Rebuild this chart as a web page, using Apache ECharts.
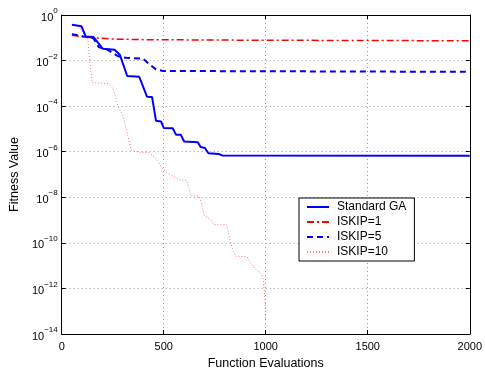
<!DOCTYPE html>
<html>
<head>
<meta charset="utf-8">
<script src="https://cdn.jsdelivr.net/npm/echarts@6/dist/echarts.min.js"></script>
<style>
  html, body { margin: 0; padding: 0; background: #fff; }
  #chart { width: 485px; height: 375px; }
</style>
</head>
<body>
<div id="chart"></div>
<script>
// Fitness value vs function evaluations, log y-axis.
const xTicks = [0, 500, 1000, 1500, 2000];
const seriesNames = ["Standard GA", "ISKIP=1", "ISKIP=5", "ISKIP=10"];

const gaEvals = [50, 97, 118, 156, 202, 259, 285, 321, 380, 418, 443, 462, 487, 500, 544, 560, 584, 600, 667, 681, 702, 719, 770, 787, 2000];
const gaFitness = [0.37, 0.32, 0.114, 0.107, 0.033, 0.030, 0.018, 2.1e-3, 1.95e-3, 2.6e-4, 2.5e-4, 2.3e-5, 2.1e-5, 1.1e-5, 1.07e-5, 5.6e-6, 5.5e-6, 2.8e-6, 2.6e-6, 1.6e-6, 1.45e-6, 8.5e-7, 7.9e-7, 6.9e-7, 6.7e-7];

const skip1Evals = [50, 100, 150, 250, 400, 700, 1000, 2000];
const skip1Fitness = [0.13, 0.11, 0.10, 0.088, 0.083, 0.08, 0.078, 0.074];

const skip5Evals = [50, 106, 154, 183, 219, 276, 316, 398, 422, 462, 495, 2000];
const skip5Fitness = [0.145, 0.115, 0.098, 0.038, 0.032, 0.0155, 0.0132, 0.0123, 7.9e-3, 4.1e-3, 3.5e-3, 3.2e-3];

const skip10Evals = [91, 128, 136, 149, 227, 252, 276, 300, 341, 389, 430, 462, 495, 516, 544, 584, 612, 624, 633, 673, 681, 690, 697, 730, 746, 808, 819, 835, 852, 908, 925, 949, 981, 989, 994, 998, 999];
const skip10Fitness = [0.26, 0.082, 0.013, 1.07e-3, 9.8e-4, 5.9e-4, 1.0e-4, 3.8e-5, 1.15e-6, 9.1e-7, 9.1e-7, 5e-7, 1.8e-7, 1.2e-7, 8.7e-8, 5.6e-8, 5.6e-8, 2.5e-8, 1.15e-8, 1.15e-8, 7.6e-9, 3.3e-9, 1.7e-9, 1.0e-9, 6.3e-10, 6.3e-10, 2.3e-10, 6e-11, 2.6e-11, 2.5e-11, 1.35e-11, 6.9e-12, 4.2e-12, 2.1e-12, 5.6e-13, 1.5e-13, 4e-14];

const zip = (xs, ys) => xs.map((x, i) => [x, ys[i]]);
const FONT = "'Liberation Sans', Arial, sans-serif";

// MATLAB-style box: four axis lines, ticks pointing in, dotted grid
const tick = { show: true, inside: true, length: 4, lineStyle: { color: "#000" } };
const axLine = { show: true, onZero: false, lineStyle: { color: "#000", width: 1 } };
const grid = { show: true, lineStyle: { color: "#999", type: [1, 3], width: 1 } };

function powLabel(v) {
  const e = Math.round(Math.log10(v));
  return "{b|10}{s|" + (e < 0 ? "\u2212" + (-e) : e) + "}";
}

const chart = echarts.init(document.getElementById("chart"), null, { renderer: "canvas" });
chart.setOption({
  animation: false,
  textStyle: { fontFamily: FONT },
  grid: { left: 60, right: 14, top: 15, bottom: 38 },
  legend: {
    orient: "vertical",
    left: 299,
    top: 198,
    data: seriesNames,
    backgroundColor: "#fff",
    borderColor: "#000",
    borderWidth: 1,
    borderRadius: 0,
    padding: [3, 8, 3, 7],
    itemGap: 3,
    itemWidth: 22,
    itemHeight: 12,
    itemStyle: { opacity: 0 },
    textStyle: { fontFamily: FONT, fontSize: 12, color: "#000", padding: [0, 0, 0, 3] }
  },
  xAxis: [{
    type: "value", min: 0, max: 2000, interval: 500,
    name: "Function Evaluations", nameLocation: "middle", nameGap: 23,
    nameTextStyle: { fontFamily: FONT, fontSize: 12.5, color: "#000" },
    axisLine: axLine, axisTick: tick, splitLine: grid,
    axisLabel: { fontFamily: FONT, fontSize: 11, color: "#000", margin: 7,
      formatter: (v) => (xTicks.includes(v) ? String(v) : "") }
  }, {
    type: "value", position: "top", min: 0, max: 2000, interval: 500,
    axisLine: axLine, axisTick: tick, axisLabel: { show: false }, splitLine: { show: false }
  }],
  yAxis: [{
    type: "log", logBase: 10, min: 1e-14, max: 1, interval: 2,
    name: "Fitness Value", nameLocation: "middle", nameGap: 34,
    nameTextStyle: { fontFamily: FONT, fontSize: 12.5, color: "#000" },
    axisLine: axLine, axisTick: tick, splitLine: grid, minorTick: { show: false },
    axisLabel: {
      margin: 4, formatter: powLabel,
      rich: {
        b: { fontFamily: FONT, fontSize: 11, color: "#000", verticalAlign: "bottom", lineHeight: 14 },
        s: { fontFamily: FONT, fontSize: 8, color: "#000", verticalAlign: "top", lineHeight: 16, padding: [0, 0, 8, 0] }
      }
    }
  }, {
    type: "log", logBase: 10, min: 1e-14, max: 1, interval: 2, position: "right",
    axisLine: axLine, axisTick: tick, axisLabel: { show: false }, splitLine: { show: false }
  }],
  series: [
    { name: seriesNames[0], type: "line", data: zip(gaEvals, gaFitness), symbol: "none", z: 5,
      color: "#0000ff", lineStyle: { color: "#0000ff", width: 2 } },
    { name: seriesNames[1], type: "line", data: zip(skip1Evals, skip1Fitness), symbol: "none", z: 3,
      color: "#ff0000", lineStyle: { color: "#ff0000", width: 1.5, type: [7, 3, 2, 3] } },
    { name: seriesNames[2], type: "line", data: zip(skip5Evals, skip5Fitness), symbol: "none", z: 4,
      color: "#0000ff", lineStyle: { color: "#0000ff", width: 2, type: [6, 4] } },
    { name: seriesNames[3], type: "line", data: zip(skip10Evals, skip10Fitness), symbol: "none", z: 2,
      color: "#ff7070", lineStyle: { color: "#ff7070", width: 1, type: [1, 2] } }
  ]
});
</script>
</body>
</html>
